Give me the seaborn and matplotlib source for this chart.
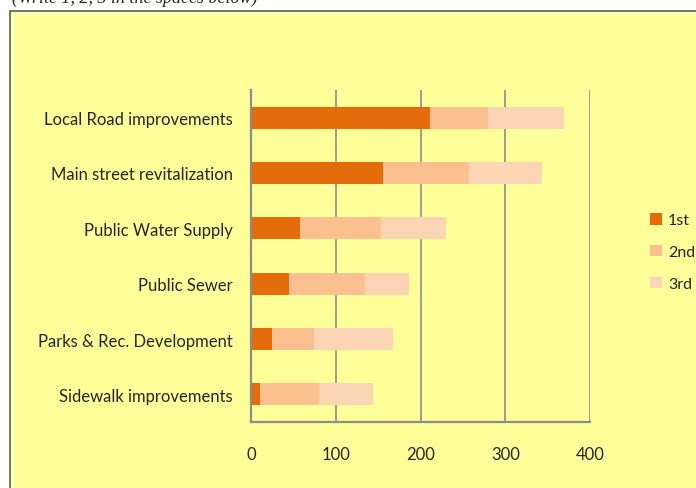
import matplotlib
matplotlib.use("Agg")
import matplotlib.pyplot as plt
import numpy as np
import pandas as pd
import seaborn as sns
from matplotlib.patches import Patch, Rectangle

# data
categories = ["Local Road improvements", "Main street revitalization",
              "Public Water Supply", "Public Sewer",
              "Parks & Rec. Development", "Sidewalk improvements"]
first = [211, 156, 58, 45, 25, 11]
second = [69, 101, 95, 89, 49, 69]
third = [89, 86, 77, 52, 93, 64]
rank_labels = ["1st", "2nd", "3rd"]
x_ticks = [0, 100, 200, 300, 400]

COLORS = ["#E46C0A", "#FAC090", "#FCD5B5"]
BG = "#FFFF99"
GRID = "#8c8c8c"

sns.set_style("white")
plt.rcParams["font.family"] = ["Lato", "DejaVu Sans"]

df = pd.DataFrame({"category": categories, "1st": first, "2nd": second, "3rd": third})
df["c1"] = df["1st"]
df["c2"] = df["1st"] + df["2nd"]
df["c3"] = df["c2"] + df["3rd"]

fig = plt.figure(figsize=(6.96, 4.89), dpi=100)
fig.patch.set_facecolor("white")

# chart frame (yellow panel)
frame = Rectangle((10 / 696, -0.02), 1.0, 1 - 12 / 489 + 0.02, transform=fig.transFigure,
                  facecolor=BG, edgecolor="#6b6b4a", linewidth=1.3, zorder=-2)
fig.patches.append(frame)
hl = Rectangle((12 / 696, -0.02), 1.0, 1 - 14 / 489 + 0.02, transform=fig.transFigure,
               facecolor="none", edgecolor="#fffff0", linewidth=1.0, zorder=-1)
fig.patches.append(hl)

fig.text(12 / 696, 1 - 3 / 489, "(Write 1, 2, 3 in the spaces below)",
         family="Liberation Serif", style="italic", fontsize=13, va="baseline", ha="left")

ax = fig.add_axes([251 / 696, 1 - 423 / 489, 339 / 696, (423 - 91) / 489])
ax.set_zorder(3)
ax.set_facecolor(BG)

# stacked bars: draw cumulative totals, largest first
for col, color in zip(["c3", "c2", "c1"], COLORS[::-1]):
    sns.barplot(data=df, y="category", x=col, orient="h", color=color,
                width=0.4, saturation=1, edgecolor="none", linewidth=0, ax=ax, zorder=2)

ax.set_xlim(0, 400)
ax.set_ylim(5.5, -0.5)
ax.set_xticks(x_ticks)
ax.set_xticklabels([str(t) for t in x_ticks])
ax.set_xlabel("")
ax.set_ylabel("")
ax.grid(False)
for t in x_ticks[1:]:
    ax.axvline(t, color=GRID, linewidth=1.2, zorder=1)

for s in ["top", "right"]:
    ax.spines[s].set_visible(False)
for s in ["left", "bottom"]:
    ax.spines[s].set_color(GRID)
    ax.spines[s].set_linewidth(1.6)

ax.set_yticks(np.arange(-0.5, 6, 1.0), minor=True)
ax.tick_params(axis="y", which="major", length=0, pad=13, labelsize=12)
ax.tick_params(axis="y", which="minor", length=5, width=1.2, color=GRID, direction="out")
ax.tick_params(axis="x", which="major", length=5, width=1.2, color=GRID,
               direction="out", pad=12, labelsize=12)

handles = [Patch(facecolor=c, edgecolor="none", label=l) for c, l in zip(COLORS, rank_labels)]
fig.legend(handles=handles, loc="center left", bbox_to_anchor=(636 / 696, 1 - 253 / 489),
           frameon=False, fontsize=11.5, handlelength=0.75, handleheight=0.75,
           handletextpad=0.35, labelspacing=1.1)

fig.savefig("out.png", dpi=100, facecolor="white")
